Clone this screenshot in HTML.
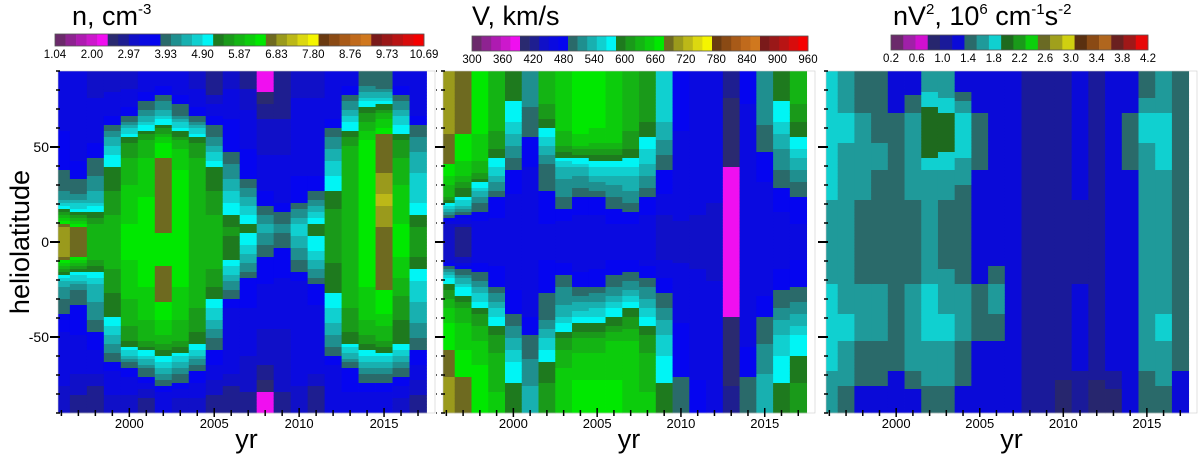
<!DOCTYPE html>
<html><head><meta charset="utf-8">
<style>
html,body{margin:0;padding:0;background:#fff;}
svg{display:block;font-family:"Liberation Sans",sans-serif;}
</style></head>
<body>
<svg id="fig" width="1200" height="454" viewBox="0 0 1200 454" xmlns="http://www.w3.org/2000/svg">
</svg>
<script>
// ---------- DATA ----------
const years = [1996,1997,1998,1999,2000,2001,2002,2003,2004,2005,2006,2007,2008,2009,2010,2011,2012,2013,2014,2015,2016,2017];
const latCenters = [82.5,67.5,52.5,37.5,22.5,7.5,-7.5,-22.5,-37.5,-52.5,-67.5,-82.5];
const xTickLabels = [2000,2005,2010,2015];
const yTickLabels = [50,0,-50];
const nTickLabels = ["1.04","2.00","2.97","3.93","4.90","5.87","6.83","7.80","8.76","9.73","10.69"];
const vTickLabels = ["300","360","420","480","540","600","660","720","780","840","900","960"];
const pTickLabels = ["0.2","0.6","1.0","1.4","1.8","2.2","2.6","3.0","3.4","3.8","4.2"];

const nData = [
[3.3,3.3,3.2,3.2,3.2,3.3,3.5,3.3,3.2,2.7,3.2,2.9,2.3,2.7,3.2,3.2,3.3,3.5,4.0,3.8,3.5,3.3],
[3.4,3.5,3.3,3.4,3.6,4.2,4.5,4.0,3.6,3.5,3.5,3.3,2.9,2.9,3.3,3.3,3.4,4.5,5.5,5.8,4.5,3.5],
[3.6,3.4,3.5,4.5,5.5,5.9,6.3,5.9,5.5,4.2,3.6,3.5,3.2,3.2,3.3,3.5,4.2,5.7,6.3,6.8,5.5,4.2],
[3.8,3.6,4.0,5.3,5.9,6.1,6.8,6.3,5.9,5.3,4.2,3.6,3.3,3.3,3.5,3.4,4.8,5.9,6.3,6.8,5.9,4.6],
[4.2,4.2,4.5,5.5,6.1,6.3,6.8,6.3,5.9,5.5,4.8,4.4,3.6,3.4,3.6,4.0,5.3,5.9,6.5,7.2,6.1,4.8],
[7.0,6.6,5.9,5.9,6.3,6.5,6.6,6.3,5.9,5.9,5.5,5.3,4.5,4.2,4.8,5.3,5.7,5.9,6.5,6.8,6.3,5.5],
[7.0,6.6,5.9,5.9,6.3,6.5,6.4,6.3,5.9,5.9,5.3,4.6,3.8,3.6,4.2,4.8,5.5,5.9,6.5,6.6,6.3,5.5],
[4.4,4.2,4.6,5.5,6.1,6.3,6.8,6.3,5.9,5.5,4.2,3.6,3.5,3.5,3.4,3.8,5.3,5.9,6.3,6.6,5.9,4.8],
[3.8,3.6,4.2,5.3,5.9,6.1,6.4,6.1,5.7,4.8,3.4,3.5,3.3,3.3,3.5,3.4,4.8,5.7,6.1,6.3,5.5,4.5],
[3.4,3.5,3.6,4.4,5.5,5.7,5.9,5.7,5.3,4.0,3.5,3.3,3.2,3.2,3.3,3.5,4.2,5.3,5.6,5.7,5.3,4.0],
[3.3,3.3,3.3,3.5,3.6,4.0,4.5,4.2,3.8,3.4,3.3,3.2,2.9,3.2,3.3,3.3,3.4,3.6,4.2,4.2,4.0,3.4],
[3.2,2.9,2.7,3.2,3.2,2.9,3.3,3.2,3.2,2.9,2.7,2.9,2.3,2.9,3.2,2.7,3.3,3.5,3.3,3.3,3.2,2.9]
];
const vData = [
[720,700,680,640,600,520,640,660,680,680,660,640,620,560,480,470,460,420,480,520,600,640],
[720,700,680,640,580,510,620,660,680,680,660,640,620,560,480,470,460,410,470,520,580,620],
[700,680,660,620,540,490,560,640,660,650,650,620,580,530,470,460,460,405,460,500,540,580],
[680,660,640,560,490,470,500,540,540,560,560,560,540,490,470,460,455,395,460,480,510,530],
[620,580,520,490,470,465,490,510,490,490,505,520,490,470,465,460,455,395,455,465,480,490],
[440,430,460,465,465,460,470,460,460,460,470,465,460,440,450,450,450,395,455,460,465,470],
[440,430,460,465,465,460,470,460,460,460,470,465,460,450,450,450,450,395,455,460,465,470],
[600,560,520,490,470,465,490,510,485,490,505,520,505,480,465,460,455,395,455,465,485,490],
[660,640,610,560,490,470,500,540,560,560,580,600,560,520,470,460,455,395,460,490,520,530],
[680,660,650,620,540,500,560,620,640,640,650,650,620,560,480,465,455,405,470,510,560,580],
[700,680,670,640,580,520,600,650,660,660,660,660,640,580,490,470,460,410,490,530,580,600],
[720,700,680,650,600,540,620,660,680,680,680,660,650,600,500,480,460,420,500,540,600,620]
];
const pData = [
[1.6,1.5,1.2,1.2,1.1,1.1,1.5,1.4,1.1,1.1,1.0,1.0,0.9,0.8,0.9,1.0,0.9,1.1,1.1,1.2,1.5,1.3],
[1.7,1.6,1.4,1.3,1.2,1.4,1.9,1.8,1.6,1.2,1.1,1.0,0.9,0.8,0.9,1.0,0.9,1.1,1.2,1.6,1.6,1.3],
[1.8,1.6,1.4,1.4,1.3,1.5,2.0,1.9,1.7,1.3,1.1,1.1,0.9,0.8,0.9,1.0,0.9,1.1,1.2,1.6,1.7,1.4],
[1.7,1.5,1.4,1.4,1.3,1.4,1.6,1.6,1.5,1.2,1.1,1.0,0.9,0.8,0.9,1.0,0.9,1.1,1.2,1.5,1.6,1.3],
[1.6,1.5,1.4,1.3,1.2,1.4,1.5,1.4,1.3,1.1,1.1,1.0,0.9,0.8,0.9,1.0,0.9,1.1,1.1,1.4,1.5,1.2],
[1.5,1.4,1.3,1.3,1.2,1.3,1.5,1.3,1.2,1.1,1.1,1.0,0.9,0.8,0.8,0.9,0.9,1.1,1.1,1.4,1.5,1.2],
[1.5,1.4,1.3,1.3,1.2,1.3,1.5,1.3,1.2,1.1,1.1,1.0,0.9,0.8,0.8,0.9,0.9,1.1,1.1,1.4,1.5,1.2],
[1.6,1.5,1.4,1.4,1.3,1.4,1.6,1.5,1.4,1.2,1.4,1.1,0.9,0.8,0.9,1.0,0.9,1.1,1.1,1.5,1.5,1.2],
[1.7,1.6,1.5,1.5,1.4,1.6,1.7,1.6,1.5,1.3,1.4,1.1,0.9,0.8,0.9,1.0,0.9,1.1,1.1,1.5,1.6,1.3],
[1.7,1.6,1.4,1.4,1.3,1.5,1.6,1.6,1.4,1.2,1.2,1.1,0.9,0.8,0.9,1.0,0.9,1.1,1.1,1.5,1.6,1.3],
[1.6,1.5,1.3,1.3,1.2,1.4,1.5,1.5,1.3,1.1,1.1,1.0,0.9,0.8,0.9,1.0,0.9,1.0,1.1,1.4,1.5,1.2],
[1.4,1.3,1.1,1.1,1.0,1.1,1.3,1.3,1.1,1.0,1.0,1.0,0.9,0.8,0.6,0.9,0.6,0.7,1.0,1.2,1.3,1.1]
];

// ---------- COLORMAPS ----------
const cmap35 = ["#6b2a6b","#8e2391","#ae1bb1","#cc18cc","#f00ff0",
"#2a2a70","#1e1e90","#1010c8","#0a0ae0","#0505f0",
"#2a6a6a","#1f8f8f","#18b0b0","#10d0d0","#00f5f5",
"#1e7a1e","#1a9a1a","#14b414","#0ccc0c","#00e800",
"#6e6a20","#9a9a1c","#bcb818","#dcd810","#f5f500",
"#6a3a10","#8a4a14","#a85a18","#c06a1c","#d0781e",
"#7a1a1a","#9a1818","#b81414","#d80c0c","#f50000"];
const cmap21 = ["#6b2a6b","#a020a8","#d010d0","#27266e","#1a1a9a","#0a0ad8",
"#2a6a6a","#1f9a9a","#10d0d0","#1e6a1e","#1a9a1a","#0cd00c",
"#6a6a24","#a0a01c","#d0d010","#5a3010","#8a4a14","#b0661e","#6a2020","#a01818","#e80808"];

const NS="http://www.w3.org/2000/svg";
const svg=document.getElementById('fig');
function mk(tag,attrs,parent){const e=document.createElementNS(NS,tag);for(const k in attrs)e.setAttribute(k,attrs[k]);(parent||svg).appendChild(e);return e;}

const Y0=71, Y1=413;
function yScale(lat){return Y0+(90-lat)/180*(Y1-Y0);}

const panels=[
 {name:"density",data:nData,x0:58,x1:435,cmap:cmap35,vmin:1.04,vmax:10.69,cb:{x:55,y:34,w:369,h:12,labels:nTickLabels,ly:58},labels:true,rightTicks:true},
 {name:"speed",data:vData,x0:443,x1:815,cmap:cmap35,vmin:300,vmax:975,cb:{x:472,y:36,w:336,h:15,labels:vTickLabels,ly:63},labels:false,rightTicks:false},
 {name:"pressure",data:pData,x0:826,x1:1197,cmap:cmap21,vmin:0.0,vmax:4.2,cb:{x:891,y:35,w:257,h:15,labels:pTickLabels,ly:62},labels:false,rightTicks:false}
];

function colorFor(p,v){let i=Math.floor((v-p.vmin)/(p.vmax-p.vmin)*p.cmap.length);i=Math.max(0,Math.min(p.cmap.length-1,i));return p.cmap[i];}

panels.forEach(p=>{
 const g=mk('g',{});
 
 
 const ppy=(p.x1-p.x0)/22.2;
 const xScale=yr=>p.x0+(yr-1995.8)*ppy;
 const hm=mk('g',{},g);
 
 
 const step=3;
 for(let c=0;c<years.length;c++){
  const xa=Math.max(p.x0,xScale(years[c]-0.5)), xb=Math.min(p.x1,xScale(years[c]+0.5));
  for(let yy=Y0;yy<Y1;yy+=step){
   const lat=90-((yy+step/2)-Y0)/(Y1-Y0)*180;
   let r=(82.5-lat)/15; r=Math.max(0,Math.min(latCenters.length-1,r));
   const r0=Math.floor(r), r1=Math.min(latCenters.length-1,r0+1), f=r-r0;
   const v=p.data[r0][c]*(1-f)+p.data[r1][c]*f;
   const rc=mk('rect',{x:xa.toFixed(2),y:yy,width:(xb-xa+0.4).toFixed(2),height:Math.min(step,Y1-yy)+0.3,fill:colorFor(p,v)},hm);
   
   
  }
 }
 mk('rect',{x:p.x0,y:Y0,width:p.x1-p.x0,height:Y1-Y0,fill:'none',stroke:'#ccc','stroke-width':0.6},g);
 for(let lat=-90;lat<=90;lat+=10){
  const y=yScale(lat), major=(lat%50===0&&lat!==90&&lat!==-90);
  mk('line',{x1:p.x0-(major?8:2),x2:p.x0+2,y1:y,y2:y,stroke:'#000','stroke-width':major?2:1.5},g);
  if(p.rightTicks) mk('line',{x1:p.x1+(major?5:2),x2:p.x1+1,y1:y,y2:y,stroke:'#000','stroke-width':major?2:1.2},g);
 }
 if(p.labels){
  yTickLabels.forEach(l=>{
   const t=mk('text',{x:p.x0-9,y:yScale(l)+5,'text-anchor':'end','font-size':14,fill:'#000'},g);
   t.textContent=l;
   
   
  });
 }
 for(let yr=1996;yr<=2018;yr++){
  const x=xScale(yr); if(x>p.x1) continue;
  const major=yr%5===0;
  mk('line',{x1:x,x2:x,y1:Y1-(major?5:3),y2:Y1+(major?4:3),stroke:'#000','stroke-width':1.5},g);
 }
 xTickLabels.forEach(l=>{
  const t=mk('text',{x:xScale(l),y:428,'text-anchor':'middle','font-size':13,fill:'#000'},g);
  t.textContent=l;
  
  
 });
 const xt=mk('text',{x:(p.x0+p.x1)/2,y:448,'text-anchor':'middle','font-size':27,fill:'#000'},g);
 xt.textContent='yr';
 
 
 const cbg=mk('g',{},g);
 
 
 const cw=p.cb.w/p.cmap.length;
 p.cmap.forEach((col,i)=>{mk('rect',{x:p.cb.x+i*cw,y:p.cb.y,width:cw+0.3,height:p.cb.h,fill:col},cbg);});
 mk('rect',{x:p.cb.x,y:p.cb.y,width:p.cb.w,height:p.cb.h,fill:'none',stroke:'#555','stroke-width':0.8},cbg);
 const nl=p.cb.labels.length;
 p.cb.labels.forEach((l,i)=>{
  const t=mk('text',{x:p.cb.x+i*p.cb.w/(nl-1),y:p.cb.ly,'text-anchor':'middle','font-size':11.5,fill:'#000'},cbg);
  t.textContent=l;
  
  
 });
});
</script>
<script>
(function(){
 const NS="http://www.w3.org/2000/svg", svg=document.getElementById('fig');
 function txt(html,x,y,size,name,extra){const t=document.createElementNS(NS,'text');t.setAttribute('x',x);t.setAttribute('y',y);t.setAttribute('font-size',size);t.setAttribute('fill','#000');if(extra)t.setAttribute('transform',extra);t.innerHTML=html;svg.appendChild(t);return t;}
 txt('n, cm<tspan dy="-11" font-size="15">-3</tspan>',72,25,27,'density-title');
 txt('V, km/s',472,25,27,'speed-title');
 txt('nV<tspan dy="-11" font-size="15">2</tspan><tspan dy="11">, 10</tspan><tspan dy="-11" font-size="15">6</tspan><tspan dy="11"> cm</tspan><tspan dy="-11" font-size="15">-1</tspan><tspan dy="11">s</tspan><tspan dy="-11" font-size="15">-2</tspan>',893,25,27,'pressure-title');
 const yl=txt('heliolatitude',0,0,27,'y-axis-title','translate(29,242) rotate(-90)');
 yl.setAttribute('text-anchor','middle');
})();
</script>
</body></html>
